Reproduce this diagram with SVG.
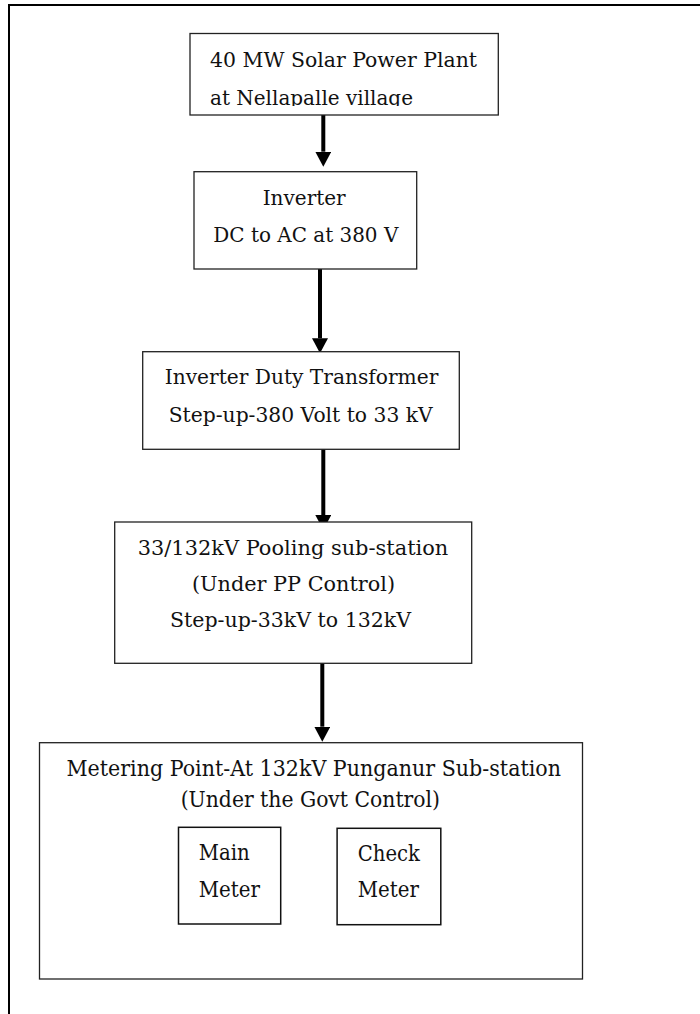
<svg xmlns="http://www.w3.org/2000/svg" width="700" height="1014" viewBox="0 0 700 1014">
  <style>
    .frame { fill: none; stroke: #000; stroke-width: 2; }
    .box { fill: #fff; stroke: #222; stroke-width: 1.3; }
    .meter { fill: #fff; stroke: #111; stroke-width: 1.5; }
    .t { font-family: "DejaVu Serif", "Liberation Serif", serif; font-size: 20px; fill: #111; }
    .tb { font-family: "DejaVu Serif", "Liberation Serif", serif; font-size: 22px; fill: #111; }
    .wire { stroke: #000; stroke-width: 4; fill: none; }
  </style>
  <defs>
    <marker id="head" markerUnits="userSpaceOnUse" markerWidth="16" markerHeight="16" refX="0" refY="8" orient="auto">
      <path d="M0,0 L15,8 L0,16 Z" fill="#000"/>
    </marker>
    <clipPath id="clip-plant">
      <rect x="190" y="33.5" width="308" height="72.5"/>
    </clipPath>
  </defs>

  <rect width="700" height="1014" fill="#fff"/>
  <!-- page border -->
  <rect class="frame" x="9" y="5" width="720" height="1030"/>

  <g id="connectors">
    <line class="wire" x1="323.3" y1="115" x2="323.3" y2="151.7" marker-end="url(#head)"/>
    <line class="wire" x1="320" y1="269" x2="320" y2="338.3" marker-end="url(#head)"/>
    <line class="wire" x1="323.3" y1="449.3" x2="323.3" y2="515" marker-end="url(#head)"/>
    <line class="wire" x1="322.3" y1="663.3" x2="322.3" y2="726.7" marker-end="url(#head)"/>
  </g>

  <g id="solar-plant">
    <rect class="box" x="190" y="33.5" width="308.3" height="81.5"/>
    <g clip-path="url(#clip-plant)">
      <text class="t" x="210" y="66.7" textLength="267" lengthAdjust="spacingAndGlyphs">40 MW Solar Power Plant</text>
      <text class="t" x="210" y="105" textLength="203" lengthAdjust="spacingAndGlyphs">at Nellapalle village</text>
    </g>
  </g>

  <g id="inverter">
    <rect class="box" x="194" y="171.7" width="222.7" height="97.3"/>
    <text class="t" x="262.7" y="205" textLength="83" lengthAdjust="spacingAndGlyphs">Inverter</text>
    <text class="t" x="213.3" y="241.7" textLength="185" lengthAdjust="spacingAndGlyphs">DC to AC at 380 V</text>
  </g>

  <g id="duty-transformer">
    <rect class="box" x="142.7" y="351.7" width="316.6" height="97.6"/>
    <text class="t" x="164.7" y="384.3" textLength="273.6" lengthAdjust="spacingAndGlyphs">Inverter Duty Transformer</text>
    <text class="t" x="168.7" y="421.7" textLength="264" lengthAdjust="spacingAndGlyphs">Step-up-380 Volt to 33 kV</text>
  </g>

  <g id="pooling-substation">
    <rect class="box" x="114.7" y="522" width="357" height="141.3"/>
    <text class="t" x="137.7" y="554.5" textLength="310.6" lengthAdjust="spacingAndGlyphs">33/132kV Pooling sub-station</text>
    <text class="t" x="192" y="590.5" textLength="203" lengthAdjust="spacingAndGlyphs">(Under PP Control)</text>
    <text class="t" x="170" y="627" textLength="241" lengthAdjust="spacingAndGlyphs">Step-up-33kV to 132kV</text>
  </g>

  <g id="metering-point">
    <rect class="box" x="39.5" y="742.7" width="543" height="236.3"/>
    <text class="tb" x="66.4" y="776" textLength="494.6" lengthAdjust="spacingAndGlyphs">Metering Point-At 132kV Punganur Sub-station</text>
    <text class="tb" x="180.7" y="806.5" textLength="259.3" lengthAdjust="spacingAndGlyphs">(Under the Govt Control)</text>
  </g>

  <g id="main-meter">
    <rect class="meter" x="178.5" y="827.3" width="102.2" height="96.7"/>
    <text class="tb" x="198.7" y="860" textLength="51" lengthAdjust="spacingAndGlyphs">Main</text>
    <text class="tb" x="198.7" y="896.7" textLength="61.3" lengthAdjust="spacingAndGlyphs">Meter</text>
  </g>

  <g id="check-meter">
    <rect class="meter" x="337.1" y="828.3" width="103.7" height="96.4"/>
    <text class="tb" x="357.8" y="861" textLength="62.2" lengthAdjust="spacingAndGlyphs">Check</text>
    <text class="tb" x="357.8" y="896.7" textLength="61.2" lengthAdjust="spacingAndGlyphs">Meter</text>
  </g>
</svg>
